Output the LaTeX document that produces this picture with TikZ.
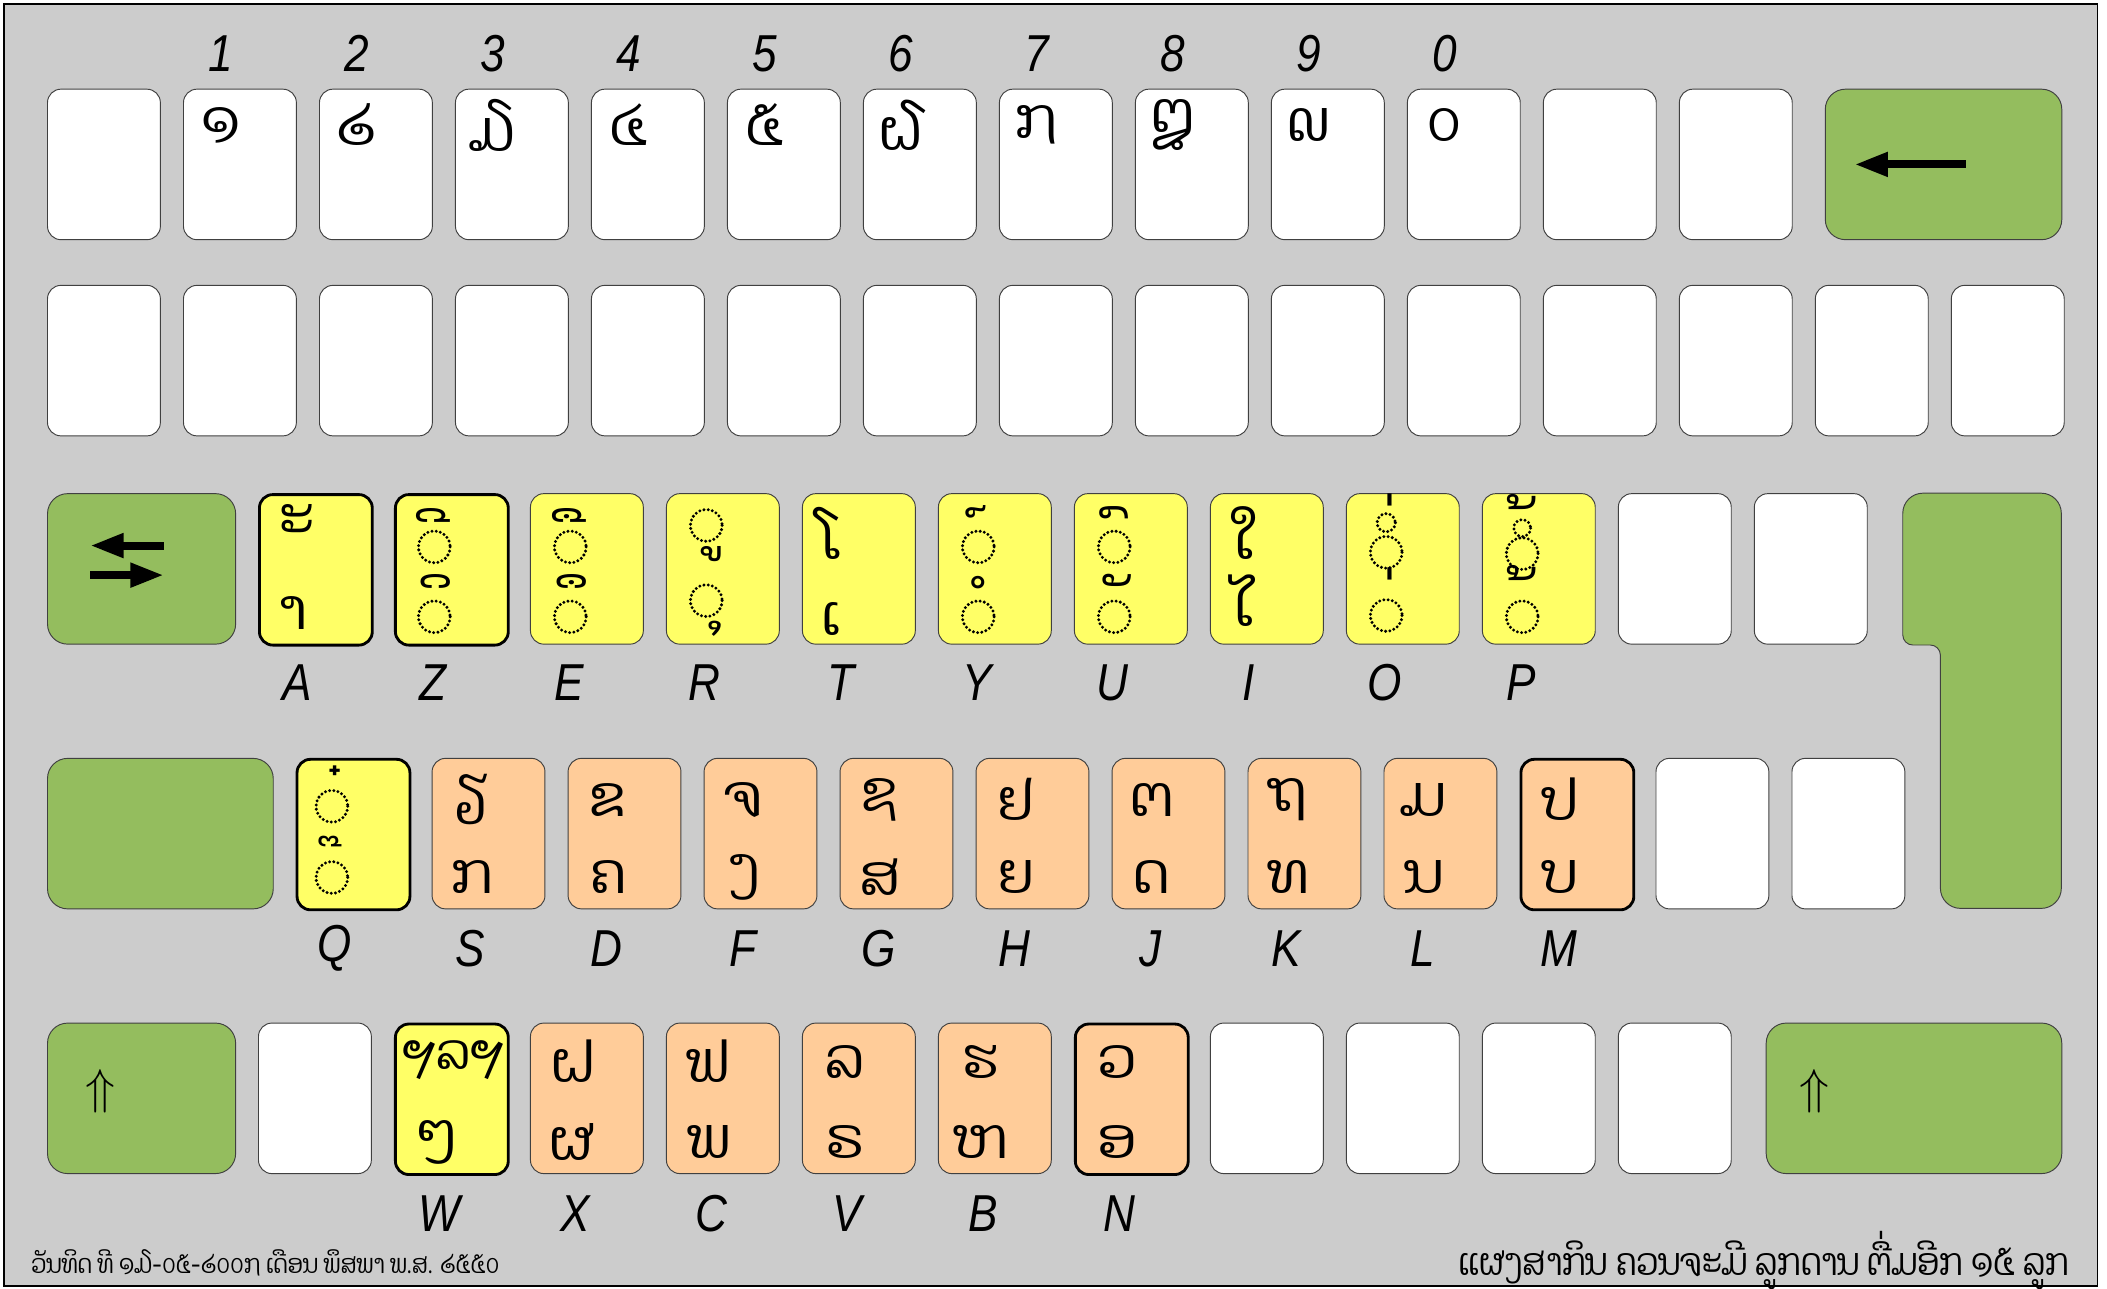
\documentclass[tikz,border=0pt]{standalone}
\usepackage{fontspec}
\setmainfont{Liberation Sans}
\newfontfamily\laofont[Script=Lao]{Dhyana}
\newfontfamily\laonarrow[Script=Lao,FakeStretch=0.85]{Dhyana}
\newfontfamily\capfont[FakeStretch=0.85]{Liberation Sans}
\newcommand\withroom[1]{\hspace*{0.66em}#1}
\usetikzlibrary{arrows.meta,positioning,calc}
\definecolor{panelgray}{HTML}{CCCCCC}
\definecolor{keygreen}{HTML}{94BD5E}
\definecolor{keyyellow}{HTML}{FFFF66}
\definecolor{keyorange}{HTML}{FFCC99}

\begin{document}
\begin{tikzpicture}[x=0.2mm,y=-0.2mm,
key/.style={draw=black!75,line width=0.4pt,rounded corners=2mm,fill=white,anchor=north west,inner sep=0pt,minimum width=16.8mm,minimum height=22.4mm},
vowel/.style={key,fill=keyyellow},
cons/.style={key,fill=keyorange},
boldvowel/.style={vowel,draw=black,line width=1.2pt},
boldcons/.style={cons,draw=black,line width=1.2pt},
ctrl/.style={key,fill=keygreen,rounded corners=3mm},
lao/.style={font=\laofont\fontsize{24}{24}\selectfont,inner sep=0pt},
sign/.style={lao,yshift=-2.6mm},
subsign/.style={lao},
letter/.style={font=\capfont\itshape\fontsize{22}{22}\selectfont,inner sep=0pt},
holder/.style={draw=black,line width=1.4pt,line cap=round,dash pattern=on 0pt off 1.8pt},
fat arrow/.style={-{Triangle[length=5mm,width=3.4mm]},line width=1.2mm}]
% panel
\useasboundingbox (0,0) rectangle (1568,959);
\draw[fill=panelgray,line width=0.6pt] (3,3) rectangle (1561,957);

% number row
\foreach \i in {0,...,12}
  \node[key] (top\i) at (35+101.2*\i,66) {};
\foreach \i/\d/\ch in {1/1/໑,2/2/໒,3/3/໓,4/4/໔,5/5/໕,6/6/໖,7/7/໗,8/8/໘,9/9/໙,10/0/໐}{
  \node[letter] at ($(top\i.north west)+(28,-26)$) {\d};
  \node[lao] at ($(top\i.north west)+(28,27)$) {\ch};
}
\node[ctrl,minimum width=35.2mm] (bksp) at (1358,66) {};
\draw[fat arrow] ($(bksp.west)+(105,0)$) -- ($(bksp.west)+(22,0)$);

% second row, empty
\foreach \i in {0,...,14}
  \node[key] (mid\i) at (35+101.2*\i,212) {};

% vowel row
\node[ctrl,minimum width=28mm] (tab) at (35,367) {};
\draw[fat arrow] ($(tab.north west)+(87,39)$) -- ($(tab.north west)+(32,39)$);
\draw[fat arrow] ($(tab.north west)+(32,61)$) -- ($(tab.north west)+(87,61)$);
\foreach \i/\l/\s in {0/A/boldvowel,1/Z/boldvowel,2/E/vowel,3/R/vowel,4/T/vowel,5/Y/vowel,6/U/vowel,7/I/vowel,8/O/vowel,9/P/vowel}{
  \node[\s] (k\l) at (192+101.2*\i,367) {};
  \node[letter] at ($(k\l.north west)+(29,141)$) {\l};
}
\node[key] (blankA) at (1204,367) {};
\node[key] (blankB) at (1305.2,367) {};
\foreach \l in {Z,E,Y,U}{
  \draw[holder] ($(k\l.north west)+(30,40)$) circle (11.8);
  \draw[holder] ($(k\l.north west)+(30,92)$) circle (11.8);
}
\node[lao] at ($(kA.north west)+(29,21)$) {ະ};
\node[lao] at ($(kA.north west)+(26,89)$) {າ};
\node[sign] at ($(kZ.north west)+(31,18)$) {\withroom{ີ}};
\node[sign] at ($(kZ.north west)+(31,67)$) {\withroom{ິ}};
\node[sign] at ($(kE.north west)+(31,18)$) {\withroom{ື}};
\node[sign] at ($(kE.north west)+(31,67)$) {\withroom{ຶ}};
\draw[holder] ($(kR.north west)+(30,24)$) circle (11.8);
\draw[holder] ($(kR.north west)+(30,80)$) circle (11.8);
\node[subsign] at ($(kR.north west)+(30,43)$) {\withroom{ູ}};
\node[subsign] at ($(kR.north west)+(30,99)$) {\withroom{ຸ}};
\node[lao] at ($(kT.north west)+(22,30)$) {ໂ};
\node[lao] at ($(kT.north west)+(22,94)$) {ເ};
\node[sign] at ($(kY.north west)+(30,15)$) {\withroom{໌}};
\node[sign] at ($(kY.north west)+(30,67)$) {\withroom{ໍ}};
\node[sign] at ($(kU.north west)+(30,15)$) {\withroom{ົ}};
\node[sign] at ($(kU.north west)+(30,66)$) {\withroom{ັ}};
\node[lao] at ($(kI.north west)+(26,30)$) {ໃ};
\node[lao] at ($(kI.north west)+(26,80)$) {ໄ};
\node[sign] at ($(kO.north west)+(30,7)$) {\withroom{່}};
\draw[holder] ($(kO.north west)+(30,22)$) circle (6.8);
\draw[holder] ($(kO.north west)+(30,44)$) circle (11.8);
\node[sign] at ($(kO.north west)+(30,62)$) {\withroom{່}};
\draw[holder] ($(kO.north west)+(30,91)$) circle (11.8);
\node[sign] at ($(kP.north west)+(30,9)$) {\withroom{້}};
\draw[holder] ($(kP.north west)+(30,26)$) circle (6.3);
\draw[holder] ($(kP.north west)+(30,45)$) circle (11.8);
\node[sign] at ($(kP.north west)+(30,62)$) {\withroom{້}};
\draw[holder] ($(kP.north west)+(30,92)$) circle (11.8);

% enter
\draw[draw=black!75,line width=0.4pt,fill=keygreen] (1416,420) [rounded corners=3mm] -- (1416,367) -- (1534,367) -- (1534,676) -- (1444,676) [rounded corners=1.5mm] -- (1444,480) -- (1416,480) -- cycle;

% consonant row
\node[ctrl,minimum width=33.6mm] (caps) at (35,564) {};
\foreach \i/\l/\s/\up/\dn in {0/Q/boldvowel//,1/S/cons/ຽ/ກ,2/D/cons/ຂ/ຄ,3/F/cons/ຈ/ງ,4/G/cons/ຊ/ສ,5/H/cons/ຢ/ຍ,6/J/cons/ຕ/ດ,7/K/cons/ຖ/ທ,8/L/cons/ມ/ນ,9/M/boldcons/ປ/ບ}{
  \node[\s] (k\l) at (220+101.2*\i,564) {};
  \node[letter] at ($(k\l.north west)+(29,142)$) {\l};
  \node[lao] at ($(k\l.north west)+(30,31)$) {\up};
  \node[lao] at ($(k\l.north west)+(30,89)$) {\dn};
}
\node[key] (blankC) at (1232,564) {};
\node[key] (blankD) at (1333.2,564) {};
\node[sign] at ($(kQ.north west)+(35,11)$) {\withroom{໋}};
\draw[holder] ($(kQ.north west)+(27,36)$) circle (11.8);
\node[sign] at ($(kQ.north west)+(28,64)$) {\withroom{໊}};
\draw[holder] ($(kQ.north west)+(27,89)$) circle (11.8);

% bottom row
\node[ctrl,minimum width=28mm] (lshift) at (35,761) {};
\node[font=\fontsize{21}{21}\selectfont,inner sep=0pt] at ($(lshift.north west)+(40,51)$) {$\Uparrow$};
\node[key] (blankE) at (192,761) {};
\foreach \i/\l/\s/\up/\dn in {1/W/boldvowel//ໆ,2/X/cons/ຝ/ຜ,3/C/cons/ຟ/ພ,4/V/cons/ລ/ຣ,5/B/cons/ຮ/ຫ,6/N/boldcons/ວ/ອ}{
  \node[\s] (k\l) at (192+101.2*\i,761) {};
  \node[letter] at ($(k\l.north west)+(34,142)$) {\l};
  \node[lao] at ($(k\l.north west)+(32,29)$) {\up};
  \node[lao] at ($(k\l.north west)+(32,89)$) {\dn};
}
\node[lao,font=\laofont\fontsize{21}{21}\selectfont] at ($(kW.north west)+(44,28)$) {ຯລຯ};
\foreach \i in {7,...,10}
  \node[key] (low\i) at (192+101.2*\i,761) {};
\node[ctrl,minimum width=44mm] (rshift) at (1314,761) {};
\node[font=\fontsize{21}{21}\selectfont,inner sep=0pt] at ($(rshift.north west)+(36,51)$) {$\Uparrow$};

% footer
\node[font=\laonarrow\fontsize{11}{11}\selectfont,anchor=west] (date) at (17,940) {ວັນທິດ ທີ ໑໓-໐໕-໒໐໐໗ ເດືອນ ພຶສພາ ພ.ສ. ໒໕໕໐};
\node[font=\laonarrow\fontsize{16}{16}\selectfont,anchor=east] (note) at (1546,938) {ແຜງສາກິນ ຄວນຈະມີ ລູກດານ ຕື່ມອີກ ໑໕ ລູກ};
\end{tikzpicture}
\end{document}
